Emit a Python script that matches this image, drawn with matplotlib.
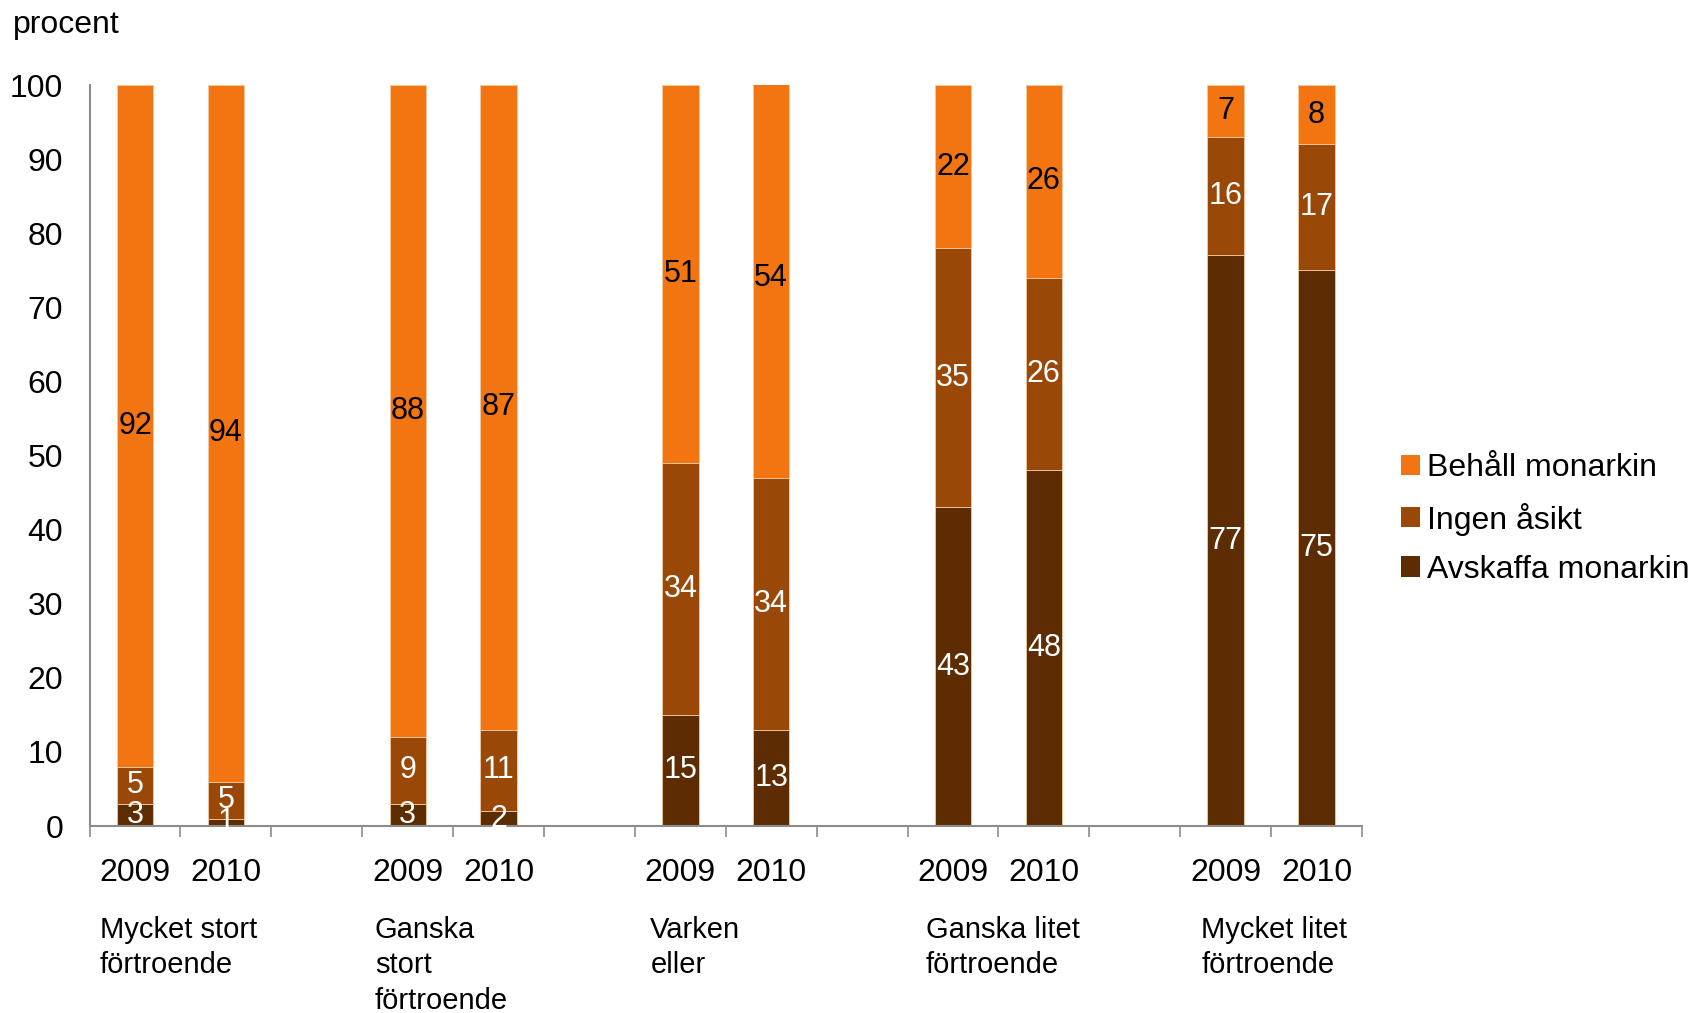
import matplotlib
matplotlib.use("Agg")
import matplotlib.pyplot as plt
from matplotlib.patches import Patch
import numpy as np

plt.rcParams['font.family'] = ['Liberation Sans', 'DejaVu Sans']

groups = ["Mycket stort\nförtroende", "Ganska\nstort\nförtroende", "Varken\neller",
          "Ganska litet\nförtroende", "Mycket litet\nförtroende"]
years = ["2009", "2010"]
series_names = ["Avskaffa monarkin", "Ingen åsikt", "Behåll monarkin"]
avskaffa = [3, 1, 3, 2, 15, 13, 43, 48, 77, 75]
ingen = [5, 5, 9, 11, 34, 34, 35, 26, 16, 17]
behall = [92, 94, 88, 87, 51, 54, 22, 26, 7, 8]
colors = ["#5E2C02", "#9A4808", "#F27512"]
text_colors = ["white", "white", "black"]

W, H = 1692, 1013
fig = plt.figure(figsize=(W / 100, H / 100), dpi=100)
ax = fig.add_axes([89.6 / W, 1 - 826 / H, (1362 - 89.6) / W, (826 - 85) / H])

# positions: two bars per group, an empty slot between groups
pos = []
for g in range(len(groups)):
    pos += [g * 3, g * 3 + 1]
pos = np.array(pos)

bottom = np.zeros(len(pos))
for vals, c, tc in zip([avskaffa, ingen, behall], colors, text_colors):
    vals = np.array(vals, dtype=float)
    ax.bar(pos, vals, bottom=bottom, width=0.4, color=c, edgecolor="#F4C9A0",
           linewidth=0.6, zorder=2)
    for x, b, v in zip(pos, bottom, vals):
        ax.text(x, b + v / 2, f"{int(v)}", ha="center", va="center",
                color=tc, fontsize=22, zorder=3, clip_on=False)
    bottom += vals

ax.set_xlim(-0.5, 13.5)
ax.set_ylim(0, 100)
ax.set_yticks(np.arange(0, 101, 10))
ax.tick_params(axis="y", length=0, labelsize=23, pad=19)
ax.set_xticks(np.arange(-0.5, 13.6, 1))
ax.set_xticklabels([])
ax.tick_params(axis="x", direction="out", length=8, width=1.2, color="#8c8c8c")
for s in ["top", "right"]:
    ax.spines[s].set_visible(False)
for s in ["left", "bottom"]:
    ax.spines[s].set_color("#8c8c8c")
    ax.spines[s].set_linewidth(1.5)

# year labels and group labels
trans = ax.get_xaxis_transform()
for i, x in enumerate(pos):
    ax.text(x, 1 - (873 - 85) / (826 - 85), years[i % 2], transform=trans,
            ha="center", va="center", fontsize=23)
for g, name in enumerate(groups):
    ax.text(g * 3.03 - 0.39, 1 - (916 - 85) / (826 - 85), name, transform=trans,
            ha="left", va="top", fontsize=21, linespacing=1.33)

fig.text(13 / W, 1 - 25 / H, "procent", ha="left", va="center", fontsize=23)

handles = [Patch(facecolor=colors[i], edgecolor="none") for i in [2, 1, 0]]
labels = [series_names[i] for i in [2, 1, 0]]
fig.legend(handles, labels, loc="center left", bbox_to_anchor=(1401 / W, 1 - 519 / H),
           frameon=False, fontsize=23, handlelength=0.6, handleheight=0.6,
           handletextpad=0.2, labelspacing=0.6, borderpad=0, borderaxespad=0)

fig.savefig("out.png", dpi=100)
